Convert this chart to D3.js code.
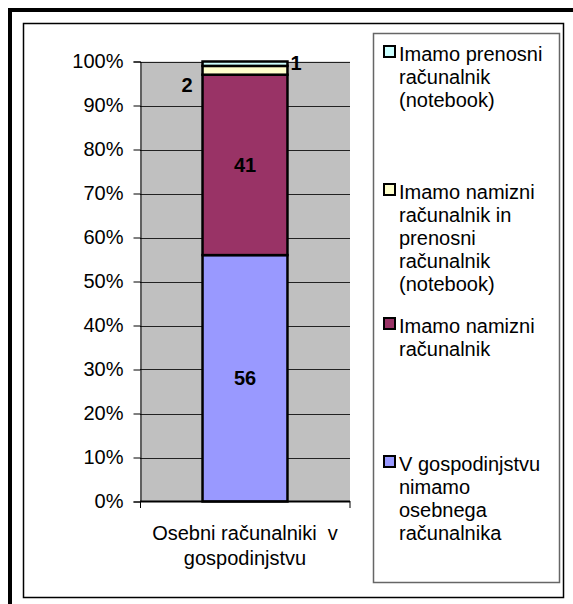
<!DOCTYPE html>
<html>
<head>
<meta charset="utf-8">
<script src="https://cdn.jsdelivr.net/npm/d3@7"></script>
<style>
  body { margin: 0; background: #fff; }
  svg { display: block; font-family: "Liberation Sans", Arial, sans-serif; }
  .pre { white-space: pre; }
</style>
</head>
<body>
<svg id="chart" width="573" height="604"></svg>
<script>
var categories = ['Osebni računalniki  v|gospodinjstvu'];
var seriesNames = [
  'V gospodinjstvu|nimamo|osebnega|računalnika',
  'Imamo namizni|računalnik',
  'Imamo namizni|računalnik in|prenosni|računalnik|(notebook)',
  'Imamo prenosni|računalnik|(notebook)'
];
var seriesValues = [56, 41, 2, 1];
var seriesColors = ['#9999ff', '#993366', '#ffffcc', '#ccffff'];
var yTicks = [0, 10, 20, 30, 40, 50, 60, 70, 80, 90, 100];

var svg = d3.select('#chart');

// frames
svg.append('rect')
  .attr('x', 10).attr('y', 10).attr('width', 620).attr('height', 620)
  .attr('fill', 'none').attr('stroke', '#000').attr('stroke-width', 4);
svg.append('rect')
  .attr('x', 23.5).attr('y', 23.5).attr('width', 540).attr('height', 574)
  .attr('fill', 'none').attr('stroke', '#000').attr('stroke-width', 1.5);

var x = d3.scaleBand().domain(categories).range([140, 350]).padding(0.424);
var y = d3.scaleLinear().domain([0, 100]).range([501.5, 61.5]);

// plot area
svg.append('rect')
  .attr('x', 140).attr('y', y(100))
  .attr('width', 210).attr('height', y(0) - y(100))
  .attr('fill', '#c0c0c0');

// gridlines
svg.append('g')
  .selectAll('line')
  .data(yTicks.filter(function(d) { return d > 0; }))
  .enter().append('line')
  .attr('x1', 140).attr('x2', 350)
  .attr('y1', function(d) { return Math.round(y(d)) + 0.5; })
  .attr('y2', function(d) { return Math.round(y(d)) + 0.5; })
  .attr('stroke', '#222').attr('stroke-width', 1);

// y axis
var yAxis = d3.axisLeft(y)
  .tickValues(yTicks)
  .tickFormat(function(d) { return d + '%'; })
  .tickSize(7)
  .tickPadding(10);
var gy = svg.append('g').attr('transform', 'translate(140.5,0)').call(yAxis);
gy.select('.domain').attr('stroke', '#000');
gy.selectAll('.tick line').attr('stroke', '#000');
gy.selectAll('text')
  .attr('font-size', 20).attr('font-family', '"Liberation Sans", Arial, sans-serif')
  .attr('fill', '#000');

// stacked bar
var stackData = [{}];
seriesNames.forEach(function(s, i) { stackData[0][s] = seriesValues[i]; });
var stacked = d3.stack().keys(seriesNames)(stackData);

var cat = categories[0];
svg.append('g')
  .selectAll('rect')
  .data(stacked)
  .enter().append('rect')
  .attr('x', x(cat))
  .attr('width', x.bandwidth())
  .attr('y', function(d) { return y(d[0][1]); })
  .attr('height', function(d) { return y(d[0][0]) - y(d[0][1]); })
  .attr('fill', function(d, i) { return seriesColors[i]; })
  .attr('stroke', '#000').attr('stroke-width', 2.5);

// x axis line and ticks
svg.append('line')
  .attr('x1', 140).attr('x2', 350).attr('y1', 501.5).attr('y2', 501.5)
  .attr('stroke', '#000').attr('stroke-width', 2);
svg.append('g')
  .selectAll('line')
  .data([140.5, 350])
  .enter().append('line')
  .attr('x1', function(d) { return d; }).attr('x2', function(d) { return d; })
  .attr('y1', 501).attr('y2', 508)
  .attr('stroke', '#000');

// category label
var xl = svg.append('text')
  .attr('class', 'pre')
  .attr('text-anchor', 'middle')
  .attr('font-size', 20);
cat.split('|').forEach(function(t, i) {
  xl.append('tspan').attr('x', x(cat) + x.bandwidth() / 2).attr('y', 540 + i * 25).text(t);
});

// data labels
var cx = x(cat) + x.bandwidth() / 2;
stacked.forEach(function(d, i) {
  var v = seriesValues[i];
  var mid = y((d[0][0] + d[0][1]) / 2);
  var t = svg.append('text')
    .attr('font-size', 20).attr('font-weight', 'bold')
    .text(v);
  if (v >= 10) {
    t.attr('x', cx).attr('y', mid + 7).attr('text-anchor', 'middle');
  } else if (i === 2) {
    t.attr('x', x(cat) - 10).attr('y', y(d[0][1]) + 26).attr('text-anchor', 'end');
  } else {
    t.attr('x', x(cat) + x.bandwidth() + 3).attr('y', y(d[0][1]) + 8).attr('text-anchor', 'start');
  }
});

// legend
svg.append('rect')
  .attr('x', 373.5).attr('y', 33.5).attr('width', 186).attr('height', 549)
  .attr('fill', '#fff').attr('stroke', '#666').attr('stroke-width', 1.5);

var legendOrder = [3, 2, 1, 0];
var legendTop = [61, 199, 333, 471];
legendOrder.forEach(function(si, k) {
  var base = legendTop[k];
  svg.append('rect')
    .attr('x', 384).attr('y', base - 15)
    .attr('width', 11).attr('height', 11)
    .attr('fill', seriesColors[si]).attr('stroke', '#000').attr('stroke-width', 2);
  var t = svg.append('text').attr('font-size', 20);
  seriesNames[si].split('|').forEach(function(line, j) {
    t.append('tspan').attr('x', 399).attr('y', base + j * 23).text(line);
  });
});
</script>
</body>
</html>
